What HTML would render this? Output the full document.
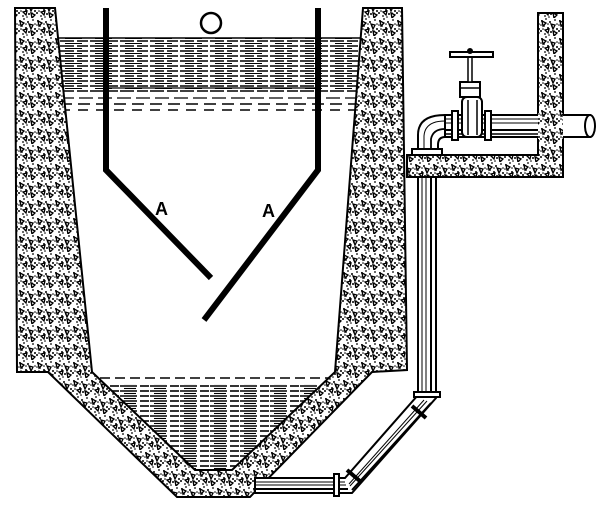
<!DOCTYPE html>
<html><head><meta charset="utf-8"><style>html,body{margin:0;padding:0;background:#fff}svg{display:block}</style></head>
<body>
<svg width="600" height="505" viewBox="0 0 600 505" xmlns="http://www.w3.org/2000/svg">
<defs>
<pattern id="c" width="18" height="18" patternUnits="userSpaceOnUse">
<rect width="18" height="18" fill="#fff"/>
<g fill="#000">
<circle cx="2" cy="3" r="1"/><circle cx="6" cy="1" r="0.9"/><circle cx="10" cy="4" r="1"/><circle cx="15" cy="2" r="0.9"/>
<circle cx="4" cy="8" r="0.9"/><circle cx="8" cy="10" r="1"/><circle cx="12" cy="8" r="0.9"/><circle cx="17" cy="11" r="1"/>
<circle cx="1" cy="13" r="1"/><circle cx="5" cy="16" r="0.9"/><circle cx="11" cy="14" r="1"/><circle cx="14" cy="17" r="0.9"/>
<circle cx="8" cy="6" r="0.8"/><circle cx="17" cy="6" r="0.8"/><circle cx="3" cy="11" r="0.8"/><circle cx="9" cy="17" r="0.8"/>
<circle cx="14" cy="13" r="0.8"/><circle cx="1" cy="7" r="0.8"/>
</g>
<g fill="none" stroke="#000" stroke-width="1.3">
<path d="M11 6 l4 1 l-2 4 z"/><path d="M2 3 l4 2 l-3 3 z"/><path d="M5 12 l4 -1 l-1 4 z"/><path d="M13 13 l4 2 l-3 3 z"/>
</g>
</pattern>
<pattern id="w" width="30" height="5" patternUnits="userSpaceOnUse">
<rect width="30" height="5" fill="#fff"/>
<line x1="0" y1="1" x2="14" y2="1" stroke="#000" stroke-width="1.5"/>
<line x1="17" y1="1" x2="28" y2="1" stroke="#000" stroke-width="1.5"/>
<line x1="5" y1="3.5" x2="22" y2="3.5" stroke="#000" stroke-width="1.1"/>
</pattern>
<pattern id="w2" width="30" height="5" patternUnits="userSpaceOnUse">
<rect width="30" height="5" fill="#fff"/>
<line x1="0" y1="1" x2="17" y2="1" stroke="#000" stroke-width="1.6"/>
<line x1="20" y1="1" x2="29" y2="1" stroke="#000" stroke-width="1.6"/>
<line x1="4" y1="3.5" x2="16" y2="3.5" stroke="#000" stroke-width="1.1"/>
</pattern>
</defs>

<!-- upper water -->
<rect x="56" y="38" width="310" height="54" fill="url(#w)"/>
<line x1="56" y1="38" x2="366" y2="38" stroke="#000" stroke-width="1.5"/>
<line x1="108" y1="88" x2="318" y2="88" stroke="#000" stroke-width="1.3"/>
<line x1="60" y1="98" x2="360" y2="98" stroke="#000" stroke-width="1.2" stroke-dasharray="14 5"/>
<line x1="60" y1="104" x2="360" y2="104" stroke="#000" stroke-width="1.5" stroke-dasharray="12 6"/>
<line x1="60" y1="110" x2="360" y2="110" stroke="#000" stroke-width="1.5" stroke-dasharray="10 8"/>

<!-- lower water -->
<polygon points="100,384 328,384 232,470 196,470" fill="url(#w2)"/>
<line x1="100" y1="378" x2="328" y2="378" stroke="#000" stroke-width="1.5" stroke-dasharray="10 5"/>

<!-- concrete tank -->
<path d="M15,8 L55,8 L92,372 L195,470 L232,470 L335,372 L363,8 L402,8 L407,370 L372,372 L250,497 L177,497 L48,372 L17,372 Z" fill="url(#c)" stroke="#000" stroke-width="2"/>

<!-- right box -->
<path d="M407,155 L538,155 L538,13 L563,13 L563,177 L407,177 Z" fill="url(#c)" stroke="#000" stroke-width="2"/>

<!-- baffles -->
<polyline points="106,8 106,170 211,278" fill="none" stroke="#000" stroke-width="6"/>
<polyline points="318,8 318,170 204,320" fill="none" stroke="#000" stroke-width="6"/>
<text x="155" y="215" font-family="Liberation Sans, sans-serif" font-size="18" font-weight="bold">A</text>
<text x="262" y="217" font-family="Liberation Sans, sans-serif" font-size="18" font-weight="bold">A</text>
<circle cx="211" cy="23" r="10" fill="#fff" stroke="#000" stroke-width="2.5"/>

<!-- horizontal pipe with valve -->
<rect x="445" y="115" width="145" height="22" fill="#fff" stroke="#000" stroke-width="2"/>
<line x1="445" y1="119" x2="538" y2="119" stroke="#000" stroke-width="1"/>
<line x1="445" y1="123" x2="538" y2="123" stroke="#000" stroke-width="1"/>
<line x1="445" y1="130" x2="538" y2="130" stroke="#000" stroke-width="2"/>
<line x1="445" y1="134" x2="538" y2="134" stroke="#000" stroke-width="1.5"/>
<rect x="538" y="113" width="25" height="26" fill="url(#c)"/>
<ellipse cx="590" cy="126" rx="5" ry="11" fill="#fff" stroke="#000" stroke-width="2"/>
<path d="M418,152 L418,135 Q418,115 445,115 L445,137 Q438,137 438,145 L438,152 Z" fill="#fff" stroke="#000" stroke-width="2"/>
<path d="M424,152 L424,136 Q425,121 445,121" fill="none" stroke="#000" stroke-width="1"/>
<path d="M431,152 L431,139 Q433,129 445,129" fill="none" stroke="#000" stroke-width="1.8"/>
<rect x="412" y="149" width="30" height="6" fill="#fff" stroke="#000" stroke-width="2"/>
<rect x="452" y="111" width="6" height="29" fill="#fff" stroke="#000" stroke-width="2"/>
<rect x="485" y="111" width="6" height="29" fill="#fff" stroke="#000" stroke-width="2"/>
<rect x="462" y="97" width="20" height="40" rx="5" fill="#fff" stroke="#000" stroke-width="2"/>
<line x1="468" y1="100" x2="468" y2="135" stroke="#000" stroke-width="1.5"/>
<line x1="477" y1="100" x2="477" y2="135" stroke="#000" stroke-width="1.5"/>
<rect x="460" y="82" width="20" height="15" fill="#fff" stroke="#000" stroke-width="2"/>
<line x1="460" y1="88" x2="480" y2="88" stroke="#000" stroke-width="1.5"/>
<rect x="468" y="56" width="4" height="26" fill="#fff" stroke="#000" stroke-width="1.5"/>
<rect x="450" y="52" width="43" height="5" fill="#fff" stroke="#000" stroke-width="2"/>
<circle cx="470" cy="51" r="3" fill="#000"/>

<!-- vertical & drain pipe -->
<path d="M418,177 L418,395 L345,478 L255,478 L255,493 L352,493 L436,398 L436,177 Z" fill="#fff" stroke="#000" stroke-width="2"/>
<line x1="422" y1="177" x2="422" y2="395" stroke="#000" stroke-width="1"/>
<line x1="426" y1="177" x2="426" y2="395" stroke="#000" stroke-width="1"/>
<line x1="431" y1="177" x2="431" y2="397" stroke="#000" stroke-width="2"/>
<line x1="424" y1="400" x2="349" y2="484" stroke="#000" stroke-width="1"/>
<line x1="427" y1="401" x2="350" y2="486" stroke="#000" stroke-width="1"/>
<line x1="431" y1="403" x2="352" y2="490" stroke="#000" stroke-width="2"/>
<line x1="255" y1="482" x2="345" y2="482" stroke="#000" stroke-width="1"/>
<line x1="255" y1="485" x2="346" y2="485" stroke="#000" stroke-width="1"/>
<line x1="255" y1="489" x2="348" y2="489" stroke="#000" stroke-width="2"/>
<rect x="414" y="392" width="26" height="5" fill="#fff" stroke="#000" stroke-width="2"/>
<line x1="412" y1="406" x2="426" y2="418" stroke="#000" stroke-width="4"/>
<line x1="347" y1="470" x2="361" y2="482" stroke="#000" stroke-width="4"/>
<rect x="334" y="474" width="5" height="22" fill="#fff" stroke="#000" stroke-width="2"/>
</svg>
</body></html>
